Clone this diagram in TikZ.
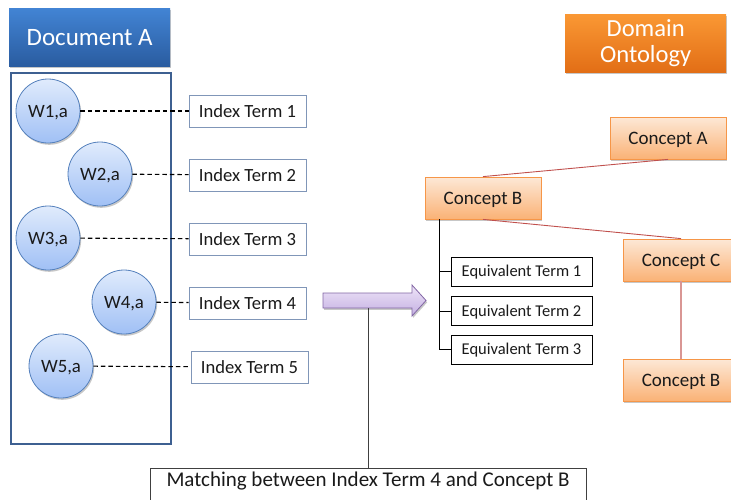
\documentclass[tikz,border=0pt]{standalone}
\usepackage{fontspec}
\setmainfont{Carlito}
\usetikzlibrary{shadows}

\definecolor{docframe}{RGB}{62,96,145}
\definecolor{headtop}{RGB}{66,132,212}
\definecolor{headbot}{RGB}{42,92,160}
\definecolor{ontotop}{RGB}{250,152,52}
\definecolor{ontobot}{RGB}{226,110,22}
\definecolor{circtop}{RGB}{224,235,252}
\definecolor{circbot}{RGB}{160,192,245}
\definecolor{circline}{RGB}{84,128,188}
\definecolor{termline}{RGB}{128,150,184}
\definecolor{conctop}{RGB}{253,232,214}
\definecolor{concbot}{RGB}{250,178,118}
\definecolor{concline}{RGB}{246,150,72}
\definecolor{arrtop}{RGB}{238,228,248}
\definecolor{arrbot}{RGB}{196,176,226}
\definecolor{arrline}{RGB}{130,102,165}
\definecolor{linkred}{RGB}{192,80,77}
\definecolor{linkpink}{RGB}{217,150,148}
\definecolor{inkgray}{RGB}{26,26,26}

\begin{document}
\begin{tikzpicture}[x=1pt,y=-1pt,
  softshadow/.style={drop shadow={shadow xshift=1.2pt,shadow yshift=-1.8pt,opacity=0.22,fill=black}},
  header/.style={minimum width=161pt,minimum height=58pt,inner sep=0pt,text=white,
    font=\fontsize{25}{26}\selectfont,softshadow},
  word/.style={circle,minimum size=64pt,inner sep=0pt,draw=circline,line width=0.8pt,
    top color=circtop,bottom color=circbot,softshadow,text=inkgray,
    text height=12pt,text depth=0pt,font=\fontsize{18.8}{22}\selectfont},
  term/.style={draw=termline,line width=0.8pt,fill=white,minimum width=117pt,
    minimum height=32pt,inner sep=0pt,text=inkgray,
    text height=12pt,text depth=0pt,font=\fontsize{18.6}{22}\selectfont},
  concept/.style={minimum width=116pt,minimum height=42pt,inner sep=0pt,draw=concline,
    line width=0.8pt,top color=conctop,bottom color=concbot,softshadow,text=inkgray,
    text height=12.2pt,text depth=0pt,font=\fontsize{19}{22}\selectfont},
  equiv/.style={draw=black,line width=0.8pt,fill=white,minimum width=141pt,
    minimum height=29pt,inner sep=0pt,text=inkgray,
    text height=10.6pt,text depth=0pt,font=\fontsize{16.5}{20}\selectfont},
  link/.style={black,line width=1.1pt,dash pattern=on 4.5pt off 3pt},
  tree/.style={black,line width=1pt},
  relation/.style={linkred,line width=0.9pt}
]
\clip (0,0) rectangle (731,499);
\useasboundingbox (0,0) rectangle (731,499);

% document side
\node (head) [header,top color=headtop,bottom color=headbot,anchor=north west] at (9,8) {Document A};
\node (doc) [draw=docframe,line width=2pt,minimum width=160pt,minimum height=371pt,
  inner sep=0pt,anchor=north west] at (10,72) {};

\node (w1) [word] at (48,111) {W1,a};
\node (w2) [word] at (100,174) {W2,a};
\node (w3) [word] at (48,238) {W3,a};
\node (w4) [word] at (124,302) {W4,a};
\node (w5) [word] at (61,366) {W5,a};

\node (t1) [term] at (247.5,111) {Index Term 1};
\node (t2) [term] at (247.5,175) {Index Term 2};
\node (t3) [term] at (247.5,239) {Index Term 3};
\node (t4) [term] at (247.5,303) {Index Term 4};
\node (t5) [term] at (249.5,367) {Index Term 5};

\draw[link] (w1) -- (t1);
\draw[link] (w2) -- (t2);
\draw[link] (w3) -- (t3);
\draw[link] (w4) -- (t4);
\draw[link] (w5) -- (t5);

% block arrow towards the ontology
\draw[draw=arrline,line width=0.8pt,top color=arrtop,bottom color=arrbot,softshadow]
  (323,293) -- (412,293) -- (412,285) -- (426,300.5) -- (412,316) -- (412,308) -- (323,308) -- cycle;
\coordinate (arrowfoot) at (368,308);

% matching box, running off the bottom edge
\node (match) [draw=black!75,line width=0.8pt,fill=white,anchor=north,minimum width=436pt,
  inner xsep=0pt,inner ysep=3pt,text height=15pt,text depth=22pt,text=inkgray,
  font=\fontsize{21}{24}\selectfont] at (368,468) {Matching between Index Term 4 and Concept B};
\draw[black!75,line width=1pt] (arrowfoot) -- (match.north);

% ontology side
\node (onto) [header,minimum width=161pt,minimum height=58pt,top color=ontotop,
  bottom color=ontobot,align=center,font=\fontsize{24.6}{25.5}\selectfont,anchor=north west]
  at (565,14) {Domain\\Ontology};

\node (ca) [concept] at (668,138) {Concept A};
\node (cb) [concept] at (483,198) {Concept B};
\node (cc) [concept] at (681,260) {Concept C};
\node (cb2) [concept] at (681,380) {Concept B};

\draw[relation] (cb.north) -- (ca.south);
\draw[relation] (cb.south) -- (cc.north);
\draw[linkpink,line width=1.2pt] (cc.south) -- (cb2.north);

\node (e1) [equiv] at (521.5,271.5) {Equivalent Term 1};
\node (e2) [equiv] at (521.5,311) {Equivalent Term 2};
\node (e3) [equiv] at (521.5,349.5) {Equivalent Term 3};

\coordinate (trunk) at (439,219);
\draw[tree] (trunk) |- (e3.west);
\draw[tree] (trunk |- e1.west) -- (e1.west);
\draw[tree] (trunk |- e2.west) -- (e2.west);
\end{tikzpicture}
\end{document}
